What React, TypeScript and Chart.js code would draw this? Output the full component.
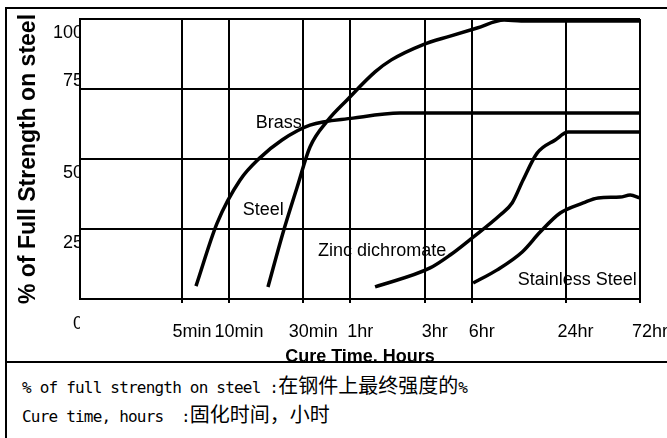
import React, { useEffect, useRef } from "react";
import { Chart, registerables } from "chart.js";

Chart.register(...registerables);

// ---- data ----
const timeTickMinutes = [5, 10, 30, 60, 180, 360, 1440, 4320];
const timeTickLabels = ["5min", "10min", "30min", "1hr", "3hr", "6hr", "24hr", "72hr"];
const strengthTicks = [0, 25, 50, 75, 100];
const strengthTickLabels = ["0", "25", "50", "75", "100"];

const brassMinutes = [6.15, 8.4, 11.8, 15.8, 21.9, 33.1, 62.5, 125, 4320];
const brassStrength = [4.6, 27.1, 42.5, 50.4, 56.8, 62.1, 64.6, 66.4, 66.4];

const steelMinutes = [17.8, 22.2, 27.4, 33.1, 43.2, 57.2, 86.5, 110, 173, 262, 390, 581, 747, 4320];
const steelStrength = [4.3, 23.6, 40, 54.3, 63.9, 71.1, 81.1, 85.4, 90.7, 93.9, 96.8, 99.6, 99.3, 99.3];

const zincMinutes = [86.5, 195, 262, 368, 548, 654, 769, 946, 1236, 1497, 4320];
const zincStrength = [4.3, 11.1, 15.7, 22.1, 30, 34.3, 42.5, 52.1, 56.8, 59.6, 59.6];

const stainlessMinutes = [368, 525, 759, 989, 1330, 1868, 2330, 3225, 3740, 4320];
const stainlessStrength = [5.7, 10.4, 16.8, 23.9, 30.7, 34.3, 36.1, 36.4, 37.1, 36.1];

const curveLabels = ["Brass", "Steel", "Zinc dichromate", "Stainless Steel"];
const curveLabelMinutes = [20.9, 16.6, 96, 1710];
const curveLabelStrength = [62.9, 31.8, 17.1, 6.8];

const xAxisTitle = "Cure Time, Hours";
const yAxisTitle = "% of Full Strength on steel";

const noteLatin = ["% of full strength on steel :", "Cure time, hours  :"];
const noteChinese = ["在钢件上最终强度的", "固化时间，小时"];
const noteTail = ["%", ""];

const FONT = '"Liberation Sans", Arial, sans-serif';

function toPoints(xs: number[], ys: number[]) {
  return xs.map((x, i) => ({ x, y: ys[i] }));
}

const curveLabelPlugin = {
  id: "curveLabels",
  afterDatasetsDraw(chart: any) {
    const { ctx, scales } = chart;
    const xs = scales.x;
    const ys = scales.y;
    ctx.save();
    ctx.font = `18px ${FONT}`;
    ctx.fillStyle = "#000";
    ctx.textAlign = "center";
    ctx.textBaseline = "middle";
    curveLabels.forEach((t, i) => {
      ctx.fillText(t, xs.getPixelForValue(curveLabelMinutes[i]), ys.getPixelForValue(curveLabelStrength[i]));
    });
    ctx.restore();
  },
};

function StrengthChart() {
  const ref = useRef<HTMLCanvasElement | null>(null);
  useEffect(() => {
    if (!ref.current) return;
    const line = (data: { x: number; y: number }[]) => ({
      data,
      borderColor: "#000",
      borderWidth: 3.5,
      pointRadius: 0,
      fill: false,
      cubicInterpolationMode: "monotone" as const,
    });
    const chart = new Chart(ref.current, {
      type: "line",
      data: {
        datasets: [
          line(toPoints(brassMinutes, brassStrength)),
          line(toPoints(steelMinutes, steelStrength)),
          line(toPoints(zincMinutes, zincStrength)),
          line(toPoints(stainlessMinutes, stainlessStrength)),
        ],
      },
      options: {
        animation: false,
        responsive: false,
        devicePixelRatio: 1,
        layout: { padding: { top: 10, right: 27, left: 0, bottom: 0 } },
        plugins: { legend: { display: false }, tooltip: { enabled: false } },
        scales: {
          x: {
            type: "logarithmic",
            min: 1.11,
            max: 4320,
            afterBuildTicks: (s: any) => {
              s.ticks = timeTickMinutes.map((v) => ({ value: v }));
            },
            afterFit: (s: any) => {
              s.height = 62;
              s.paddingLeft = 0;
              s.paddingRight = 0;
            },
            grid: { color: "#000", lineWidth: 2, drawTicks: true, tickLength: 4 },
            border: { color: "#000", width: 2 },
            ticks: {
              autoSkip: false,
              maxRotation: 0,
              minRotation: 0,
              padding: 18,
              labelOffset: 10,
              color: "#000",
              font: { family: FONT, size: 18 },
              callback: (_v: any, i: number) => timeTickLabels[i],
            },
            title: {
              display: true,
              text: xAxisTitle,
              color: "#000",
              font: { family: FONT, size: 18, weight: "bold" },
              padding: { top: 0, bottom: -7 },
            },
          },
          y: {
            type: "linear",
            min: 0,
            max: 100,
            afterBuildTicks: (s: any) => {
              s.ticks = strengthTicks.map((v) => ({ value: v }));
            },
            afterFit: (s: any) => {
              s.width = 73;
              s.paddingTop = 0;
              s.paddingBottom = 0;
            },
            grid: { color: "#000", lineWidth: 2, drawTicks: false },
            border: { color: "#000", width: 2 },
            ticks: {
              padding: -3,
              labelOffset: 3,
              color: "#000",
              font: { family: FONT, size: 18 },
              callback: (v: any, i: number) => {
                const lbl = strengthTickLabels[i];
                if (v === 75) return [lbl, ""];
                if (v === 0) return ["", "", lbl];
                return ["", lbl];
              },
            },
            title: {
              display: true,
              text: yAxisTitle,
              color: "#000",
              font: { family: FONT, size: 23, weight: "bold" },
              padding: { top: 8, bottom: 0 },
            },
          },
        },
      },
      plugins: [curveLabelPlugin],
    } as any);
    return () => chart.destroy();
  }, []);
  return <canvas ref={ref} width={660} height={352} style={{ display: "block", width: 660, height: 352 }} />;
}

export default function App() {
  const mono = '"DejaVu Sans Mono", "Liberation Mono", monospace';
  const cjk = '"Noto Sans CJK SC", sans-serif';
  return (
    <div style={{ position: "absolute", left: 5, top: 7, width: 662, height: 431, overflow: "hidden", background: "#fff" }}>
      <div style={{ width: 700, height: 470, border: "2px solid #000", boxSizing: "border-box" }}>
        <StrengthChart />
        <div style={{ borderTop: "2px solid #000", paddingTop: 7, paddingLeft: 15, color: "#000" }}>
          {noteLatin.map((t, i) => (
            <div key={i} style={{ height: 29, lineHeight: "29px", whiteSpace: "pre" }}>
              <span style={{ fontFamily: mono, fontSize: 16, letterSpacing: -0.8 }}>{t}</span>
              <span style={{ fontFamily: cjk, fontSize: 20 }}>{noteChinese[i]}</span>
              <span style={{ fontFamily: mono, fontSize: 16 }}>{noteTail[i]}</span>
            </div>
          ))}
        </div>
      </div>
    </div>
  );
}
